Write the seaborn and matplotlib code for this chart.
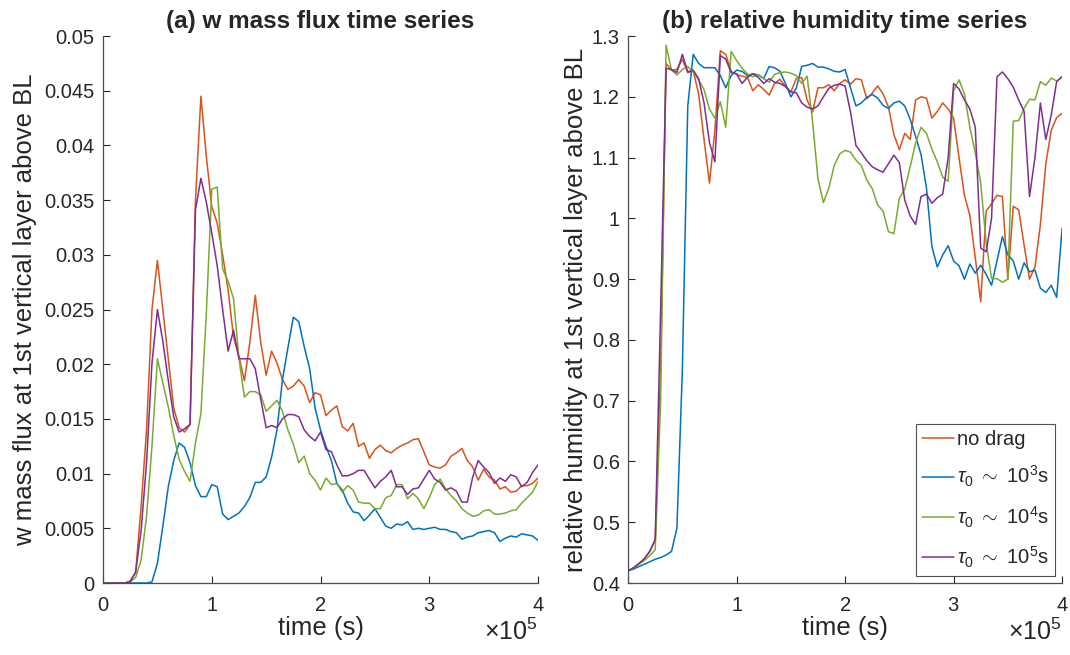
"""
Drag experiments: w mass flux and relative humidity time series
(first vertical layer above the boundary layer).
"""

import numpy as np
import pandas as pd
import matplotlib
matplotlib.use("Agg")
import matplotlib.pyplot as plt
import seaborn as sns
from matplotlib.ticker import FuncFormatter, ScalarFormatter, MultipleLocator

# sample times (s), one value every 5000 s
time_s = np.linspace(0, 4e5, 81)

labels = ["no drag", r"$\tau_0\ \sim\ 10^3$s", r"$\tau_0\ \sim\ 10^4$s", r"$\tau_0\ \sim\ 10^5$s"]
colors = ["#D95319", "#0072BD", "#77AC30", "#7E2F8E"]

# (a) w mass flux
flux_nodrag = [
    0, 0, 0, 0, 0, 0.0002, 0.001, 0.007, 0.014, 0.025,
    0.0295, 0.025, 0.0205, 0.016, 0.0142, 0.0138, 0.0145, 0.035, 0.0445, 0.039,
    0.0344, 0.0329, 0.030, 0.0268, 0.0225, 0.0207, 0.0185, 0.022, 0.0263, 0.022,
    0.019, 0.0212, 0.0201, 0.0186, 0.0177, 0.018, 0.0186, 0.018, 0.0165, 0.0174,
    0.0172, 0.0153, 0.0158, 0.0162, 0.0143, 0.0139, 0.0146, 0.0125, 0.0128, 0.0114,
    0.0122, 0.0126, 0.0121, 0.0119, 0.0123, 0.0126, 0.0128, 0.0131, 0.0132, 0.012,
    0.0108, 0.0106, 0.0105, 0.0108, 0.0116, 0.0119, 0.0123, 0.0112, 0.0106, 0.0094,
    0.0104, 0.0097, 0.0094, 0.0086, 0.0088, 0.0083, 0.0084, 0.0089, 0.0089, 0.0091,
    0.0096,
]
flux_tau3 = [
    0, 0, 0, 0, 0, 0, 0, 0, 0, 0.0001,
    0.0018, 0.0052, 0.0088, 0.0112, 0.0128, 0.0124, 0.011, 0.0089, 0.0079, 0.0079,
    0.009, 0.0088, 0.0063, 0.0058, 0.0061, 0.0064, 0.007, 0.0078, 0.0092, 0.0092,
    0.0097, 0.0115, 0.014, 0.0186, 0.0215, 0.0243, 0.0239, 0.0216, 0.0196, 0.016,
    0.014, 0.0125, 0.0112, 0.0091, 0.0085, 0.0073, 0.0065, 0.0064, 0.0057, 0.0062,
    0.0068, 0.006, 0.0052, 0.005, 0.0054, 0.0053, 0.0056, 0.0049, 0.005, 0.0049,
    0.005, 0.0051, 0.0049, 0.0049, 0.0047, 0.0046, 0.004, 0.0042, 0.0043, 0.0046,
    0.0047, 0.0048, 0.0046, 0.0038, 0.0041, 0.0043, 0.0042, 0.0045, 0.0044, 0.0043,
    0.0039,
]
flux_tau4 = [
    0, 0, 0, 0, 0, 0.0001, 0.0005, 0.0021, 0.0061, 0.0125,
    0.0205, 0.0183, 0.0161, 0.0135, 0.0113, 0.0102, 0.0093, 0.0128, 0.0155, 0.0247,
    0.036, 0.0362, 0.0287, 0.0276, 0.026, 0.0205, 0.017, 0.0175, 0.0175, 0.0172,
    0.0157, 0.0162, 0.0167, 0.0157, 0.014, 0.0127, 0.011, 0.0116, 0.01, 0.0094,
    0.0085, 0.0096, 0.009, 0.0091, 0.0083, 0.0089, 0.0085, 0.0074, 0.0073, 0.0073,
    0.0068, 0.0068, 0.0078, 0.008, 0.009, 0.009, 0.0077, 0.0082, 0.0077, 0.0068,
    0.0078, 0.009, 0.0095, 0.0086, 0.008, 0.0075, 0.0068, 0.0064, 0.0061, 0.0062,
    0.0066, 0.0067, 0.0063, 0.0063, 0.0064, 0.0066, 0.0067, 0.0073, 0.0078, 0.0083,
    0.0093,
]
flux_tau5 = [
    0, 0, 0, 0, 0, 0.0001, 0.001, 0.0048, 0.011, 0.0201,
    0.025, 0.0221, 0.0185, 0.0152, 0.0138, 0.0141, 0.0145, 0.0341, 0.037, 0.0348,
    0.032, 0.029, 0.025, 0.0212, 0.0231, 0.0205, 0.0205, 0.0205, 0.0196, 0.0168,
    0.0142, 0.0144, 0.0142, 0.015, 0.0154, 0.0154, 0.0152, 0.014, 0.0134, 0.013,
    0.0138, 0.0122, 0.012, 0.0108, 0.0098, 0.0098, 0.01, 0.0103, 0.0103, 0.0095,
    0.0087, 0.0093, 0.0097, 0.0103, 0.0088, 0.0088, 0.0081, 0.0086, 0.0087, 0.0095,
    0.0103, 0.0095, 0.0092, 0.0085, 0.0087, 0.0084, 0.0074, 0.0074, 0.0097, 0.0112,
    0.0106, 0.0101, 0.0091, 0.0096, 0.0093, 0.0099, 0.0097, 0.0088, 0.0092, 0.0101,
    0.0108,
]

# (b) relative humidity
rh_nodrag = [
    0.42, 0.425, 0.432, 0.44, 0.452, 0.47, 0.75, 1.255, 1.244, 1.245,
    1.262, 1.24, 1.243, 1.205, 1.13, 1.058, 1.145, 1.276, 1.27, 1.242,
    1.237, 1.234, 1.232, 1.21, 1.22, 1.212, 1.203, 1.222, 1.229, 1.217,
    1.208, 1.23, 1.232, 1.195, 1.175, 1.215, 1.215, 1.22, 1.21, 1.222,
    1.228, 1.221, 1.23, 1.228, 1.197, 1.206, 1.218, 1.205, 1.183, 1.138,
    1.113, 1.14, 1.13, 1.195, 1.2, 1.198, 1.165, 1.176, 1.19, 1.18,
    1.165, 1.1, 1.038, 1.005, 0.935, 0.863, 1.012, 1.024, 1.038, 1.036,
    0.9, 1.02, 1.014, 0.956, 0.9, 0.92, 0.99, 1.09, 1.145, 1.166,
    1.173,
]
rh_tau3 = [
    0.42, 0.423, 0.427, 0.431, 0.435, 0.439, 0.442, 0.446, 0.452, 0.49,
    0.75, 1.185, 1.27, 1.255, 1.248, 1.248, 1.248, 1.235, 1.215, 1.235,
    1.244, 1.242, 1.235, 1.238, 1.236, 1.23, 1.25, 1.248, 1.242, 1.222,
    1.2, 1.214, 1.25, 1.252, 1.255, 1.249, 1.249, 1.246, 1.242, 1.241,
    1.245, 1.215, 1.185, 1.19, 1.199, 1.204, 1.198, 1.186, 1.181, 1.19,
    1.193, 1.185, 1.163, 1.135, 1.105, 1.05, 0.954, 0.92, 0.94, 0.955,
    0.93, 0.922, 0.9, 0.925, 0.91, 0.923, 0.908, 0.89, 0.93, 0.97,
    0.94, 0.93, 0.9, 0.927, 0.912, 0.915, 0.885, 0.878, 0.89, 0.87,
    0.984,
]
rh_tau4 = [
    0.42, 0.425, 0.431, 0.437, 0.445, 0.455, 0.7, 1.285, 1.244, 1.236,
    1.245, 1.25, 1.241, 1.228, 1.212, 1.18, 1.165, 1.192, 1.15, 1.275,
    1.26, 1.247, 1.238, 1.233, 1.237, 1.23, 1.224, 1.237, 1.24, 1.241,
    1.239, 1.235, 1.222, 1.234, 1.16, 1.065, 1.026, 1.05, 1.087, 1.106,
    1.112, 1.109, 1.096, 1.087, 1.063, 1.049, 1.022, 1.012, 0.978, 0.975,
    1.033, 1.048, 1.085, 1.124, 1.15, 1.14, 1.114, 1.093, 1.068, 1.061,
    1.21, 1.228, 1.205, 1.15, 1.108, 1.058, 0.96, 0.901, 0.901, 0.895,
    0.9, 1.16, 1.161, 1.181, 1.196, 1.195, 1.225, 1.219, 1.231, 1.226,
    1.233,
]
rh_tau5 = [
    0.42, 0.425, 0.432, 0.44, 0.452, 0.472, 0.85, 1.247, 1.245, 1.24,
    1.27, 1.241, 1.244, 1.23, 1.19, 1.125, 1.093, 1.268, 1.262, 1.24,
    1.238, 1.222, 1.232, 1.238, 1.232, 1.222, 1.23, 1.224, 1.222, 1.217,
    1.208, 1.207, 1.19, 1.183, 1.18, 1.185, 1.2, 1.214, 1.219, 1.221,
    1.218, 1.175, 1.12, 1.108, 1.095, 1.085, 1.08, 1.076, 1.09, 1.104,
    1.092, 1.03, 1.004, 0.99, 1.036, 1.04, 1.025, 1.034, 1.04, 1.1,
    1.222, 1.213, 1.195, 1.18, 1.15, 0.951, 0.945, 1.0, 1.233, 1.241,
    1.23, 1.216, 1.195, 1.176, 1.036, 1.1, 1.19, 1.13, 1.17, 1.225,
    1.233,
]


def long_frame(series):
    frames = []
    for name, vals in zip(labels, series):
        frames.append(pd.DataFrame({"time": time_s, "value": vals, "case": name}))
    return pd.concat(frames, ignore_index=True)


df_flux = long_frame([flux_nodrag, flux_tau3, flux_tau4, flux_tau5])
df_rh = long_frame([rh_nodrag, rh_tau3, rh_tau4, rh_tau5])

sns.set_theme(style="ticks")
plt.rcParams["font.family"] = ["Liberation Sans", "DejaVu Sans"]
plt.rcParams["mathtext.fontset"] = "custom"
plt.rcParams["mathtext.rm"] = "Liberation Sans"
plt.rcParams["mathtext.it"] = "Liberation Sans:italic"
plt.rcParams["axes.unicode_minus"] = False

fig = plt.figure(figsize=(10.7, 6.55), dpi=100)
ax_a = fig.add_axes([0.0963, 0.1099, 0.4065, 0.835])
ax_b = fig.add_axes([0.587, 0.1099, 0.4056, 0.835])

palette = dict(zip(labels, colors))
axis_col = "#262626"

for ax, df in [(ax_a, df_flux), (ax_b, df_rh)]:
    sns.lineplot(data=df, x="time", y="value", hue="case", hue_order=labels,
                 palette=palette, linewidth=1.1, ax=ax, legend=False)
    sns.despine(ax=ax)
    ax.set_xlim(0, 4e5)
    ax.xaxis.set_major_locator(MultipleLocator(1e5))
    fmt = ScalarFormatter(useMathText=True)
    fmt.set_powerlimits((0, 0))
    ax.xaxis.set_major_formatter(fmt)
    ax.xaxis.get_offset_text().set_fontsize(18)
    ax.xaxis.get_offset_text().set_color(axis_col)
    ax.yaxis.set_major_formatter(FuncFormatter(lambda v, p: f"{v:g}"))
    ax.tick_params(direction="in", length=5, width=0.8, labelsize=14.5,
                   colors=axis_col, labelcolor="#262626")
    ax.tick_params(axis="x", pad=9)
    ax.tick_params(axis="y", pad=6)
    for side in ["left", "bottom"]:
        ax.spines[side].set_color("#4d4d4d")
        ax.spines[side].set_linewidth(0.9)
    ax.set_xlabel("time (s)", fontsize=18.5, color=axis_col, labelpad=1)

ax_a.set_ylim(0, 0.05)
ax_a.yaxis.set_major_locator(MultipleLocator(0.005))
ax_a.set_ylabel("w mass flux at 1st vertical layer above BL", fontsize=18.5,
                color=axis_col, labelpad=5)
ax_a.set_title("(a) w mass flux time series", fontsize=17.5, fontweight="bold", pad=6)

ax_b.set_ylim(0.4, 1.3)
ax_b.yaxis.set_major_locator(MultipleLocator(0.1))
ax_b.set_ylabel("relative humidity at 1st vertical layer above BL", fontsize=18.5,
                color=axis_col, labelpad=3)
ax_b.set_title("(b) relative humidity time series", fontsize=17.5, fontweight="bold", pad=6)

handles = [plt.Line2D([], [], color=c, linewidth=1.1) for c in colors]
leg = ax_b.legend(handles, labels, loc="lower right", fontsize=14.5, frameon=True,
                  fancybox=False, handlelength=1.6, handletextpad=0.15,
                  borderpad=0.3, labelspacing=0.75, borderaxespad=0.35)
leg.get_frame().set_edgecolor("#262626")
leg.get_frame().set_linewidth(0.8)

fig.savefig("out.png", dpi=100)
